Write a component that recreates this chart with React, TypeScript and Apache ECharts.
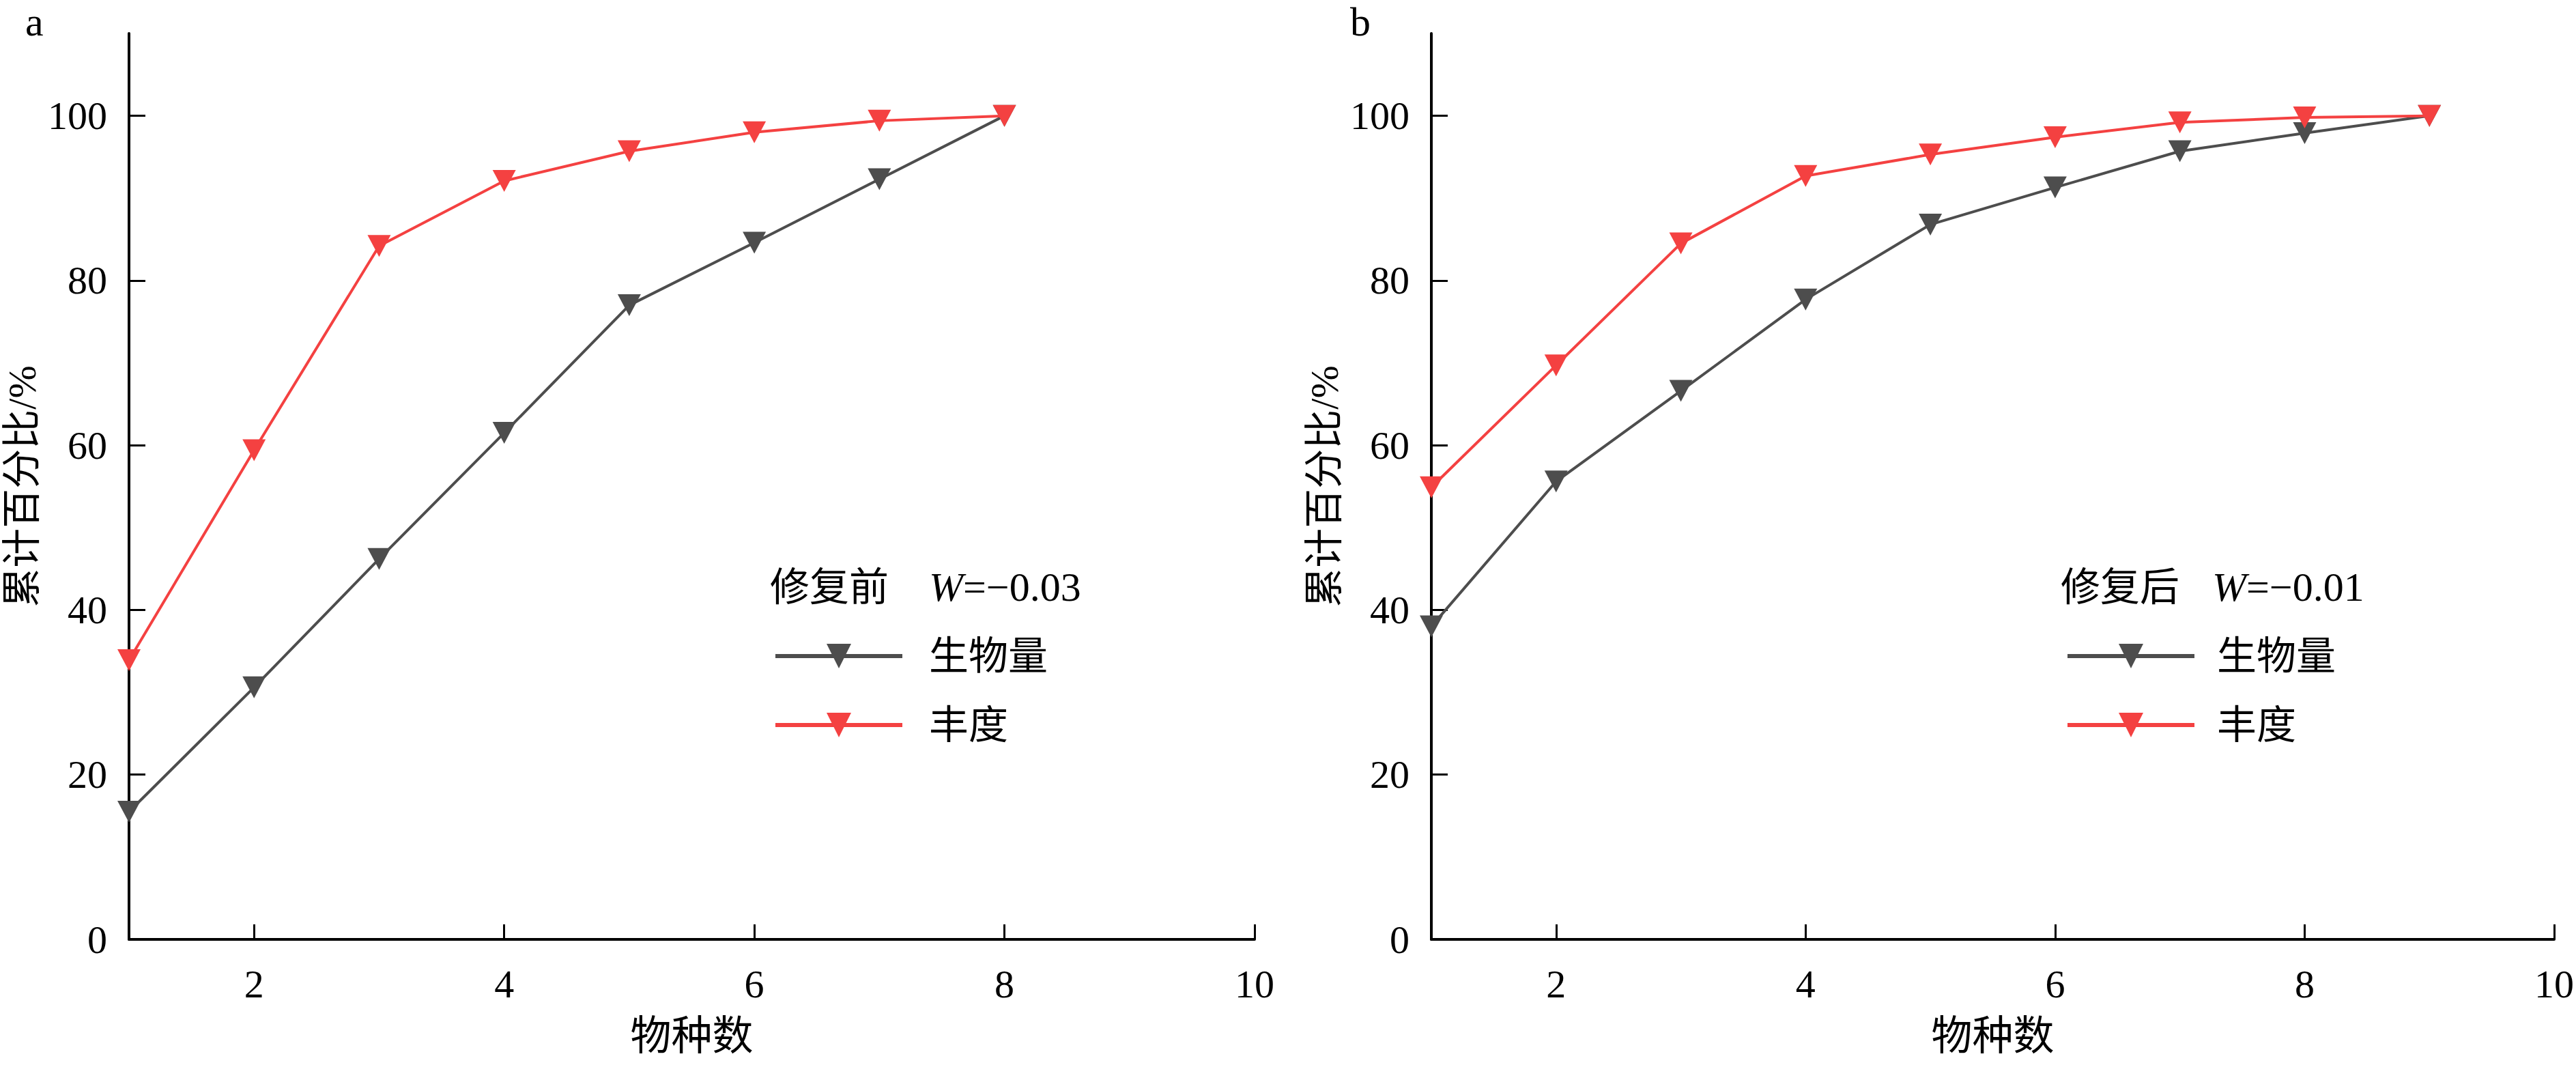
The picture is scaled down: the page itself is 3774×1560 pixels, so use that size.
import { useEffect, useRef } from 'react';
import * as echarts from 'echarts';

// species count on x, cumulative percentage on y
const speciesA = [1, 2, 3, 4, 5, 6, 7, 8];
const biomassA = [15.5, 30.6, 46.2, 61.5, 77.0, 84.6, 92.3, 100];
const abundanceA = [33.9, 59.4, 84.2, 92.1, 95.7, 98.0, 99.4, 100];

const speciesB = [1, 2, 3, 4, 5, 6, 7, 8, 9];
const biomassB = [38.0, 55.6, 66.6, 77.7, 86.8, 91.3, 95.7, 97.9, 100];
const abundanceB = [54.9, 69.7, 84.5, 92.7, 95.3, 97.4, 99.2, 99.8, 100];

const xTicks = [2, 4, 6, 8, 10];
const yTicks = [0, 20, 40, 60, 80, 100];

const seriesNames = ['生物量', '丰度'];
const panelTitles = ['修复前', '修复后'];
const panelW = ['=−0.03', '=−0.01'];

const GRAY = '#4d4d4d';
const RED = '#f44141';
const FONT = '"Liberation Serif", "Noto Sans CJK SC", serif';

const pairs = (xs: number[], ys: number[]) => xs.map((x, i) => [x, ys[i]]);

function axesFor(idx: number) {
  const xAxis = {
    type: 'value',
    gridIndex: idx,
    min: 1,
    max: 10,
    name: '物种数',
    nameLocation: 'middle',
    nameGap: 112,
    nameTextStyle: { fontSize: 60, color: '#000', fontFamily: FONT },
    axisLine: { lineStyle: { color: '#000', width: 4 } },
    axisTick: { inside: true, length: 22, customValues: xTicks, lineStyle: { color: '#000', width: 3 } },
    axisLabel: { customValues: xTicks, fontSize: 58, color: '#000', fontFamily: FONT, margin: 36 },
    splitLine: { show: false },
  };
  const yAxis = {
    type: 'value',
    gridIndex: idx,
    min: 0,
    max: 110,
    name: '累计百分比/%',
    nameLocation: 'middle',
    nameGap: 128,
    nameTextStyle: { fontSize: 58, color: '#000', fontFamily: FONT },
    axisLine: { show: true, lineStyle: { color: '#000', width: 4 } },
    axisTick: { show: true, inside: true, length: 24, customValues: yTicks, lineStyle: { color: '#000', width: 3 } },
    axisLabel: { customValues: yTicks, fontSize: 58, color: '#000', fontFamily: FONT, margin: 32 },
    splitLine: { show: false },
  };
  return { xAxis, yAxis };
}

function lineSeries(name: string, color: string, idx: number, data: number[][]) {
  return {
    type: 'line',
    name,
    xAxisIndex: idx,
    yAxisIndex: idx,
    data,
    symbol: 'triangle',
    symbolRotate: 180,
    symbolSize: [34, 32],
    lineStyle: { color, width: 4 },
    itemStyle: { color },
    z: name === '丰度' ? 3 : 2,
  };
}

function legendFor(left: number, pad: number) {
  return {
    orient: 'vertical',
    left,
    top: 926,
    data: seriesNames,
    itemWidth: 186,
    itemHeight: 45,
    itemGap: 41,
    selectedMode: false,
    lineStyle: { width: 6 },
    textStyle: { fontSize: 58, lineHeight: 60, color: '#000', fontFamily: FONT, padding: [0, 0, 0, pad] },
  };
}

function panelText(x: number, wx: number, i: number) {
  return [
    {
      type: 'text',
      x,
      y: 860,
      style: { text: panelTitles[i], font: `58px ${FONT}`, fill: '#000', verticalAlign: 'middle' },
    },
    {
      type: 'text',
      x: wx,
      y: 860,
      style: {
        text: `{w|W}{n|${panelW[i]}}`,
        verticalAlign: 'middle',
        rich: {
          w: { fontSize: 60, fontStyle: 'italic', fontFamily: FONT, fill: '#000' },
          n: { fontSize: 60, fontFamily: FONT, fill: '#000' },
        },
      },
    },
  ];
}

export default function App() {
  const ref = useRef<HTMLDivElement>(null);

  useEffect(() => {
    if (!ref.current) return;
    const chart = echarts.init(ref.current, undefined, { renderer: 'svg' });
    const a = axesFor(0);
    const b = axesFor(1);
    chart.setOption({
      animation: false,
      backgroundColor: '#fff',
      grid: [
        { left: 189, top: 49, width: 1649, height: 1327 },
        { left: 2097, top: 49, width: 1645, height: 1327 },
      ],
      xAxis: [a.xAxis, b.xAxis],
      yAxis: [a.yAxis, b.yAxis],
      legend: [legendFor(1128, 34), legendFor(3021, 28)],
      series: [
        lineSeries(seriesNames[0], GRAY, 0, pairs(speciesA, biomassA)),
        lineSeries(seriesNames[1], RED, 0, pairs(speciesA, abundanceA)),
        lineSeries(seriesNames[0], GRAY, 1, pairs(speciesB, biomassB)),
        lineSeries(seriesNames[1], RED, 1, pairs(speciesB, abundanceB)),
      ],
      graphic: [
        { type: 'text', x: 37, y: 2, style: { text: 'a', font: `60px ${FONT}`, fill: '#000' } },
        { type: 'text', x: 1978, y: 2, style: { text: 'b', font: `60px ${FONT}`, fill: '#000' } },
        ...panelText(1128, 1361, 0),
        ...panelText(3019, 3241, 1),
      ],
    });
    return () => chart.dispose();
  }, []);

  return (
    <div
      ref={ref}
      style={{ position: 'fixed', left: 0, top: 0, width: 3774, height: 1560, background: '#fff' }}
    />
  );
}
